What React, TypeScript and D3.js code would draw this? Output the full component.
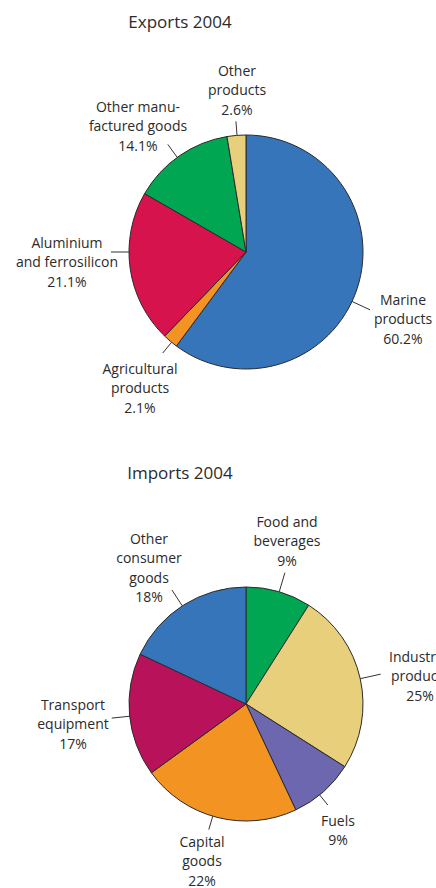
import React from "react";
import * as d3 from "d3";

const exportLabels = [
  ["Marine", "products", "60.2%"],
  ["Agricultural", "products", "2.1%"],
  ["Aluminium", "and ferrosilicon", "21.1%"],
  ["Other manu-", "factured goods", "14.1%"],
  ["Other", "products", "2.6%"],
];
const exportValues = [60.2, 2.1, 21.1, 14.1, 2.6];
const exportColors = ["#3775ba", "#f39323", "#d6134c", "#00a651", "#e7cf7c"];

const importLabels = [
  ["Food and", "beverages", "9%"],
  ["Industrial", "products", "25%"],
  ["Fuels", "9%"],
  ["Capital", "goods", "22%"],
  ["Transport", "equipment", "17%"],
  ["Other", "consumer", "goods", "18%"],
];
const importValues = [9, 25, 9, 22, 17, 18];
const importColors = ["#00a651", "#e7cf7c", "#6c67ae", "#f39321", "#b8135a", "#3775ba"];

// layout: label anchor (x,y of first baseline) and leader [angle deg, length]
const exportLayout = [
  { x: 403, y: 305, a: 115, len: 20 },
  { x: 140, y: 374, a: -140.5, len: 14 },
  { x: 67, y: 248, a: -90, len: 18 },
  { x: 138, y: 112, a: -36, len: 16 },
  { x: 237, y: 76, a: -4.4, len: 14 },
];
const importLayout = [
  { x: 287, y: 527, a: 16.5, len: 20 },
  { x: 420, y: 662, a: 77.5, len: 21 },
  { x: 338, y: 826, a: 141, len: 13 },
  { x: 202, y: 847, a: 196.5, len: 14 },
  { x: 73, y: 710, a: -96, len: 18 },
  { x: 149, y: 544, a: -33, len: 19 },
];

const R = 117;
const FONT = "'Open Sans', 'DejaVu Sans', sans-serif";
const TEXT = "#2b2b2b";

function Pie({ cx, cy, values, colors, labels, layout, title, titleX, titleY }: any) {
  const pie = d3.pie<number>().sort(null).value((d) => d)(values);
  const arc = d3.arc<any>().innerRadius(0).outerRadius(R);
  const rad = (deg: number) => (deg * Math.PI) / 180;
  return (
    <g>
      <text x={titleX} y={titleY} textAnchor="middle" fontSize={17} fill={TEXT} fontFamily={FONT}>
        {title}
      </text>
      <g transform={`translate(${cx},${cy})`}>
        {pie.map((p, i) => (
          <path key={i} d={arc(p) as string} fill={colors[i]} stroke="#2a2a2a" strokeWidth={1} />
        ))}
        {layout.map((l: any, i: number) => {
          const a = rad(l.a);
          const x1 = R * Math.sin(a), y1 = -R * Math.cos(a);
          const x2 = (R + l.len) * Math.sin(a), y2 = -(R + l.len) * Math.cos(a);
          return <line key={i} x1={x1} y1={y1} x2={x2} y2={y2} stroke="#333" strokeWidth={1} />;
        })}
      </g>
      {layout.map((l: any, i: number) => (
        <text key={i} x={l.x} y={l.y} textAnchor="middle" fontSize={14} fill={TEXT} fontFamily={FONT}>
          {labels[i].map((t: string, j: number) => (
            <tspan key={j} x={l.x} dy={j === 0 ? 0 : 19.3}>
              {t}
            </tspan>
          ))}
        </text>
      ))}
    </g>
  );
}

export default function App() {
  return (
    <svg
      width={436}
      height={888}
      style={{ position: "absolute", left: 0, top: 0, background: "#fff" }}
    >
      <Pie
        cx={246}
        cy={252}
        values={exportValues}
        colors={exportColors}
        labels={exportLabels}
        layout={exportLayout}
        title="Exports 2004"
        titleX={180}
        titleY={28}
      />
      <Pie
        cx={246}
        cy={704}
        values={importValues}
        colors={importColors}
        labels={importLabels}
        layout={importLayout}
        title="Imports 2004"
        titleX={180}
        titleY={479}
      />
    </svg>
  );
}
